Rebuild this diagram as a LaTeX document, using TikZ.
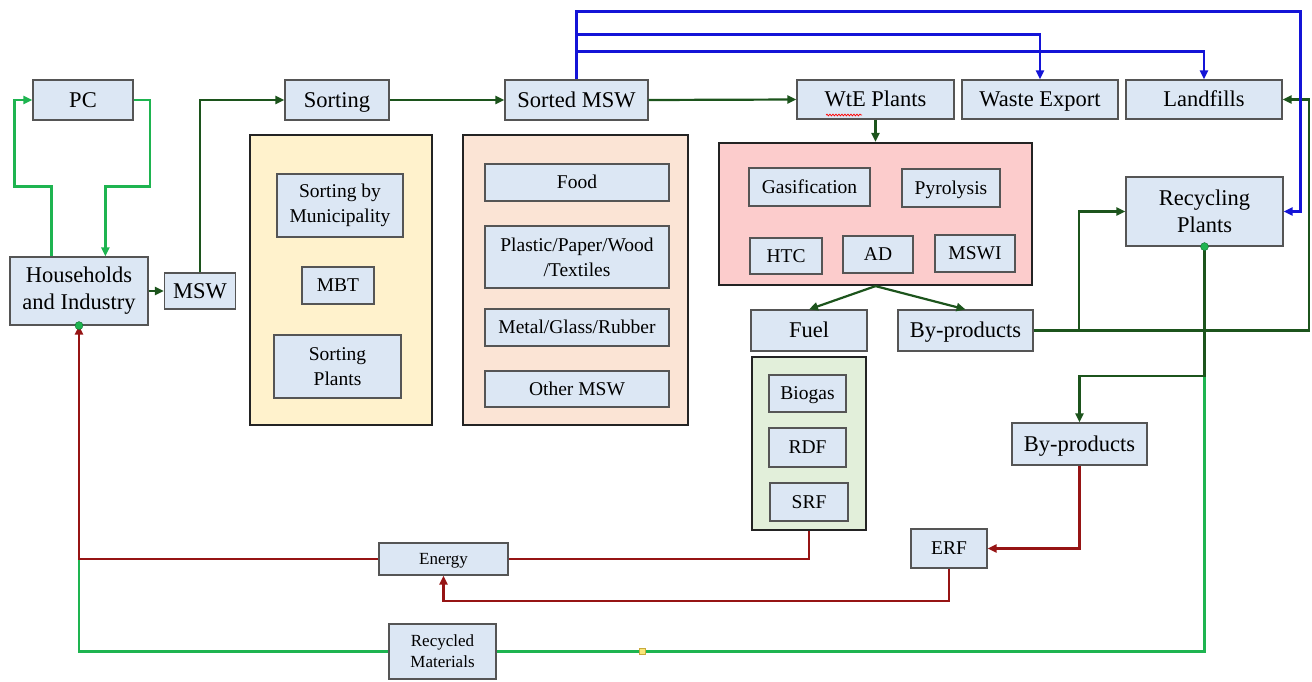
\documentclass[tikz,border=0pt]{standalone}
\usepackage{fontspec}
\setmainfont{Liberation Serif}
\usetikzlibrary{arrows.meta,calc,decorations.pathmorphing}
\definecolor{boxfill}{RGB}{220,231,244}
\definecolor{boxline}{RGB}{85,85,85}
\definecolor{yelfill}{RGB}{255,242,204}
\definecolor{peachfill}{RGB}{251,228,213}
\definecolor{pinkfill}{RGB}{252,204,204}
\definecolor{grnfill}{RGB}{226,239,218}
\definecolor{dgreen}{RGB}{28,84,28}
\definecolor{lgreen}{RGB}{30,180,80}
\definecolor{bblue}{RGB}{20,20,215}
\definecolor{dred}{RGB}{150,20,20}
\tikzset{
  box/.style={draw=boxline, fill=boxfill, line width=1.2pt, inner sep=0pt, align=center, font=\rmfamily\fontsize{22.5}{27}\selectfont},
  ibox/.style={box, font=\rmfamily\fontsize{19.5}{25}\selectfont},
  sbox/.style={box, font=\rmfamily\fontsize{17}{21}\selectfont},
  slm/.style={align=none, text height=19.4pt, text depth=4.5pt},
  sli/.style={align=none, text height=16.8pt, text depth=3.9pt},
  sls/.style={align=none, text height=14.6pt, text depth=3.4pt},
  container/.style={draw={rgb,255:red,35;green,35;blue,35}, line width=2.2pt, inner sep=0pt},
  tip/.style={-{Triangle[length=9pt,width=8pt]}},
  dg/.style={draw=dgreen, line width=2.2pt},
  lg/.style={draw=lgreen, line width=2.2pt},
  bl/.style={draw=bblue, line width=2.2pt},
  rd/.style={draw=dred, line width=2.2pt},
  dot/.style={circle, fill=lgreen, draw=lgreen!60!black, line width=0.4pt, minimum size=8pt, inner sep=0pt},
}
\begin{document}
\begin{tikzpicture}[x=1pt,y=-1pt]
\useasboundingbox (0,0) rectangle (1312,681);
% containers
\node[container, fill=yelfill, minimum width=182pt, minimum height=290pt] (ybox) at (341,280) {};
\node[container, fill=peachfill, minimum width=225pt, minimum height=290pt] (pbox) at (575.5,280) {};
\node[container, fill=pinkfill, minimum width=313pt, minimum height=142pt] (wbox) at (875.5,214) {};
\node[container, fill=grnfill, minimum width=114pt, minimum height=173pt] (gbox) at (809,443.5) {};
% top row
\node[box, slm, minimum width=100pt, minimum height=40pt] (pc) at (83,100) {PC};
\node[box, minimum width=138pt, minimum height=68pt] (hh) at (79,291) {Households\\and Industry};
\node[box, slm, minimum width=71pt, minimum height=36pt] (msw) at (200,291) {MSW};
\node[box, slm, minimum width=104pt, minimum height=40pt] (sorting) at (337,100) {Sorting};
\node[box, slm, minimum width=143pt, minimum height=40pt] (smsw) at (576.5,100) {Sorted MSW};
\node[box, slm, minimum width=157pt, minimum height=39pt] (wte) at (875.5,99.5) {WtE Plants};
\node[box, slm, minimum width=156pt, minimum height=39pt] (wexp) at (1040,99.5) {Waste Export};
\node[box, slm, minimum width=156pt, minimum height=39pt] (landf) at (1204,99.5) {Landfills};
% sorting container
\node[ibox, minimum width=126pt, minimum height=63pt] (sbm) at (340,205.5) {Sorting by\\Municipality};
\node[ibox, sli, minimum width=72pt, minimum height=37pt] (mbt) at (338,285.5) {MBT};
\node[ibox, minimum width=127pt, minimum height=63pt] (sp) at (337.5,366.5) {Sorting\\Plants};
% sorted container
\node[ibox, sli, minimum width=184pt, minimum height=37pt] (food) at (577,182.5) {Food};
\node[ibox, minimum width=184pt, minimum height=62pt] (plastic) at (577,257) {Plastic/Paper/Wood\\/Textiles};
\node[ibox, sli, minimum width=184pt, minimum height=37pt] (metal) at (577,327.5) {Metal/Glass/Rubber};
\node[ibox, sli, minimum width=184pt, minimum height=36pt] (other) at (577,389) {Other MSW};
% WtE container
\node[ibox, sli, minimum width=121pt, minimum height=38pt] (gas) at (809.5,187) {Gasification};
\node[ibox, sli, minimum width=98pt, minimum height=38pt] (pyr) at (951,188) {Pyrolysis};
\node[ibox, sli, minimum width=72pt, minimum height=36pt] (htc) at (786,256) {HTC};
\node[ibox, sli, minimum width=70pt, minimum height=37pt] (ad) at (878,254.5) {AD};
\node[ibox, sli, minimum width=80pt, minimum height=37pt] (mswi) at (975,253.5) {MSWI};
% outputs
\node[box, slm, minimum width=116pt, minimum height=41pt] (fuel) at (809,330.5) {Fuel};
\node[box, slm, minimum width=135pt, minimum height=41pt] (byp1) at (965.5,330.5) {By-products};
\node[box, minimum width=157pt, minimum height=69pt] (recyc) at (1204.5,211.5) {Recycling\\Plants};
\node[ibox, sli, minimum width=77pt, minimum height=37pt] (biogas) at (807.5,393.5) {Biogas};
\node[ibox, sli, minimum width=77pt, minimum height=39pt] (rdf) at (807.5,447.5) {RDF};
\node[ibox, sli, minimum width=78pt, minimum height=38pt] (srf) at (809,502) {SRF};
\node[box, slm, minimum width=135pt, minimum height=42pt] (byp2) at (1079.5,444) {By-products};
\node[ibox, sli, minimum width=76pt, minimum height=39pt] (erf) at (949,548.5) {ERF};
\node[sbox, sls, minimum width=129pt, minimum height=32pt] (energy) at (443.5,559) {Energy};
\node[sbox, minimum width=107pt, minimum height=55pt] (rm) at (442.5,651.5) {Recycled\\Materials};
% spell-check underline
\draw[red, line width=0.7pt, decorate, decoration={snake, amplitude=0.9pt, segment length=3pt}] (826,115) -- (862,115);

% light green loops
\draw[lg, tip] ($(hh.north west)+(42,0)$) -- ++(0,-70) -- ++(-37,0) |- (pc.west);
\draw[lg, tip] (pc.east) -- ++(16,0) |- ($(hh.north west)+(96,-70)$) -- ($(hh.north west)+(96,0)$);
\draw[lg] (recyc.south) |- (rm.east);
\draw[lg] (rm.west) -| (hh.south);
\node[draw={rgb,255:red,200;green,170;blue,60}, fill={rgb,255:red,250;green,230;blue,120}, line width=0.4pt, minimum size=6pt, inner sep=0pt] (handle) at (642,651.5) {};
% red energy flows
\draw[rd] (gbox.south) |- (energy.east);
\draw[rd, tip] (energy.west) -| (hh.south);
\draw[rd, tip] (byp2.south) |- (erf.east);
\draw[rd, tip] (erf.south) -- ++(0,32) -| (energy.south);
% dark green flow
\draw[dg, tip] (hh.east) -- (msw.west);
\draw[dg, tip] (msw.north) |- (sorting.west);
\draw[dg, tip] (sorting.east) -- (smsw.west);
\draw[dg, tip] (smsw.east) -- (wte.west);
\draw[dg, tip] (wte.south) -- (wbox.north);
\draw[dg, tip] (wbox.south) -- (fuel.north);
\draw[dg, tip] (wbox.south) -- (byp1.north);
\coordinate (gr) at (1309,330.5);
\coordinate (br) at (1079,330.5);
\draw[dg, tip] (byp1.east) -- (gr) |- (landf.east);
\draw[dg, tip] (br) |- (recyc.west);
\coordinate (rk) at (1204.5,376);
\draw[dg, tip] (recyc.south) -- (rk) -| (byp2.north);
% blue
\draw[bl, tip] (smsw.north) -- ++(0,-68) -- ++(724,0) |- (recyc.east);
\draw[bl, tip] ($(smsw.north)+(0,-45)$) -| (wexp.north);
\draw[bl, tip] ($(smsw.north)+(0,-28)$) -| (landf.north);
% junction dots
\node[dot] (hdot) at (hh.south) {};
\node[dot] (rdot) at (recyc.south) {};
\end{tikzpicture}
\end{document}
